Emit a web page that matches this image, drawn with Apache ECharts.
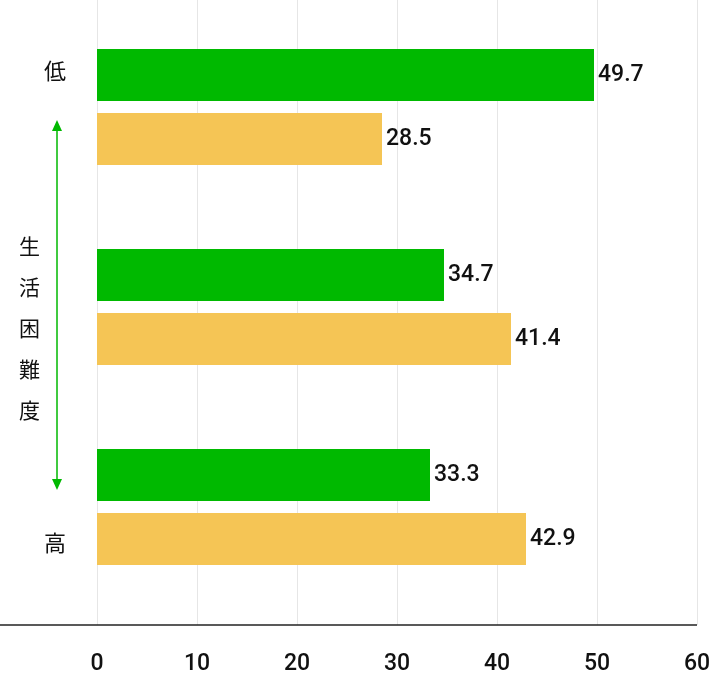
<!DOCTYPE html>
<html><head><meta charset="utf-8">
<script src="https://cdn.jsdelivr.net/npm/echarts@6/dist/echarts.min.js"></script>
<style>html,body{margin:0;padding:0;background:#fff}#c{width:714px;height:685px}</style>
</head><body><div id="c"></div>
<script>
var categories = ['g1', 'g2', 'g3'];
var greenValues = [49.7, 34.7, 33.3];
var yellowValues = [28.5, 41.4, 42.9];
var xTicks = [0, 10, 20, 30, 40, 50, 60];

var chart = echarts.init(document.getElementById('c'));
var lbl = {show: true, position: 'right', distance: 4, color: '#111', fontSize: 23, fontFamily: 'Roboto', fontWeight: 500};
chart.setOption({
  animation: false,
  grid: {left: 97, right: 17, top: 7, bottom: 78},
  xAxis: {
    type: 'value', min: xTicks[0], max: xTicks[xTicks.length - 1], interval: 10,
    axisLine: {show: false}, axisTick: {show: false},
    axisLabel: {margin: 46, fontSize: 23, color: '#111', fontFamily: 'Roboto', fontWeight: 500},
    splitLine: {lineStyle: {color: '#e6e6e6'}}
  },
  yAxis: {
    type: 'category', data: categories, inverse: true,
    axisLine: {show: false}, axisTick: {show: false}, axisLabel: {show: false}
  },
  series: [
    {type: 'bar', data: greenValues, barWidth: 52, barGap: '23%', itemStyle: {color: '#00b900'}, label: lbl},
    {type: 'bar', data: yellowValues, barWidth: 52, itemStyle: {color: '#f5c555'}, label: lbl}
  ],
  graphic: [
    // gridline stubs down to the base line
    {type: 'group', children: xTicks.map(function (t, i) {
      var x = 97.5 + i * 100;
      return {type: 'line', shape: {x1: x, y1: 0, x2: x, y2: 625}, style: {stroke: '#e6e6e6', lineWidth: 1}, z: -1};
    })},
    {type: 'line', shape: {x1: 0, y1: 625, x2: 697, y2: 625}, style: {stroke: '#222', lineWidth: 1.5}},
    {type: 'text', left: 44, top: 60, style: {text: '低', fontSize: 22, fill: '#111', fontFamily: 'Noto Sans CJK JP'}},
    {type: 'text', left: 44, top: 532, style: {text: '高', fontSize: 22, fill: '#111', fontFamily: 'Noto Sans CJK JP'}},
    {type: 'line', shape: {x1: 57, y1: 128, x2: 57, y2: 482}, style: {stroke: '#00b900', lineWidth: 1.5}},
    {type: 'polygon', shape: {points: [[57, 120], [52, 131], [62, 131]]}, style: {fill: '#00b900'}},
    {type: 'polygon', shape: {points: [[57, 490], [52, 479], [62, 479]]}, style: {fill: '#00b900'}},
    {type: 'text', left: 19, top: 226, style: {text: '生\n活\n困\n難\n度', fontSize: 21, lineHeight: 41, fill: '#111', fontFamily: 'Noto Sans CJK JP'}}
  ]
});
</script></body></html>
